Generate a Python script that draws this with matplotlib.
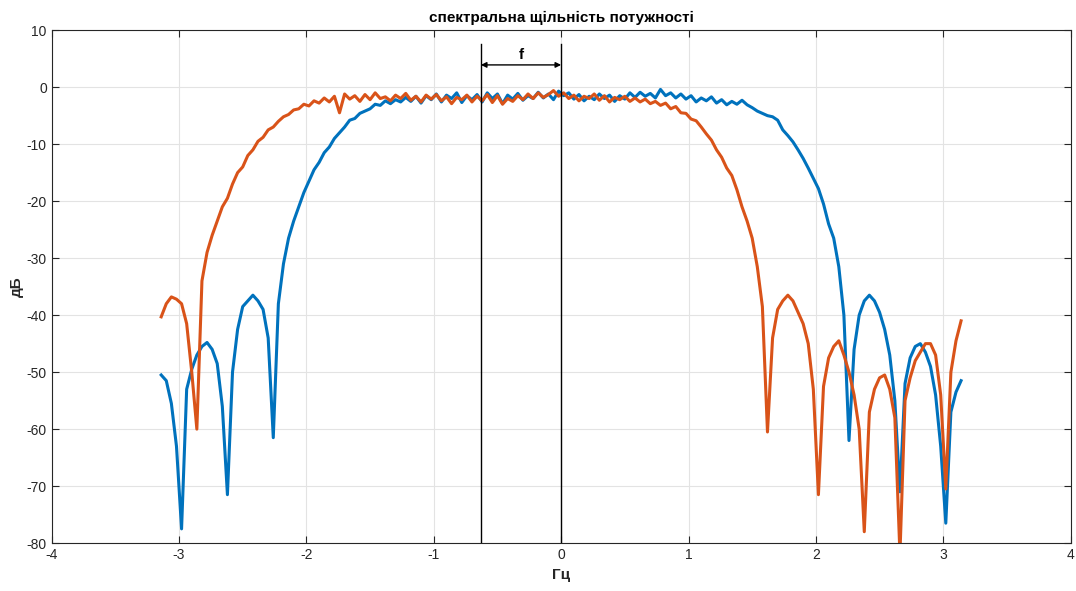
import numpy as np
import matplotlib
matplotlib.use('Agg')
import matplotlib.pyplot as plt

plt.rcParams['font.family'] = ['Liberation Sans', 'DejaVu Sans']
plt.rcParams['axes.unicode_minus'] = False

# frequency grid (rad), 158 samples from -3.14 to 3.14
freq = np.linspace(-3.14, 3.14, 158)

# PSD of the wide signal (blue), dB
psd_wide = [
    -50.5, -51.5, -55.5, -63.0, -77.5, -53.0, -49.5, -47.0, -45.5, -44.8,
    -46.0, -48.5, -56.0, -71.5, -50.0, -42.5, -38.5, -37.5, -36.5, -37.5,
    -39.0, -44.0, -61.5, -38.0, -31.0, -26.5, -23.5, -21.0, -18.5, -16.5,
    -14.5, -13.2, -11.5, -10.5, -9.0, -8.0, -7.0, -5.8, -5.5, -4.6,
    -4.2, -3.8, -3.0, -3.2, -2.4, -2.9, -2.2, -2.6, -1.8, -2.5,
    -1.6, -2.8, -1.5, -2.2, -1.2, -2.6, -1.4, -2.0, -1.0, -2.7,
    -1.5, -2.2, -1.3, -2.6, -1.0, -2.0, -1.2, -2.9, -1.4, -2.1,
    -1.1, -2.3, -1.5, -2.0, -0.9, -1.9, -1.2, -2.2, -0.7, -1.5,
    -1.0, -2.1, -1.3, -2.4, -1.6, -2.2, -1.2, -2.0, -1.4, -2.5,
    -1.5, -2.1, -1.0, -1.8, -0.9, -1.6, -1.1, -1.9, -0.4, -1.5,
    -1.0, -1.9, -1.2, -2.1, -1.5, -2.6, -1.9, -2.4, -1.7, -2.8,
    -2.2, -3.1, -2.5, -3.0, -2.3, -3.1, -3.6, -4.2, -4.6, -5.0,
    -5.2, -5.8, -7.5, -8.5, -9.6, -11.0, -12.5, -14.2, -16.0, -17.8,
    -20.5, -24.0, -26.5, -31.5, -40.0, -62.0, -46.0, -40.0, -37.5, -36.5,
    -37.5, -39.5, -42.5, -47.0, -55.0, -71.0, -52.0, -47.5, -45.5, -45.0,
    -46.5, -49.0, -54.0, -63.0, -76.5, -57.0, -53.5, -51.5,
]

# PSD of the narrow signal (orange), dB
psd_narrow = [
    -40.3, -38.0, -36.8, -37.2, -38.0, -41.5, -50.0, -60.0, -34.0, -29.0,
    -26.0, -23.5, -21.0, -19.5, -17.0, -15.0, -14.0, -12.0, -11.0, -9.5,
    -8.8, -7.5, -7.0, -6.0, -5.2, -4.8, -4.0, -3.8, -3.0, -3.3,
    -2.4, -2.8, -1.9, -2.6, -1.6, -4.5, -1.2, -2.1, -1.5, -2.5,
    -1.3, -2.2, -1.0, -2.0, -1.7, -2.4, -1.4, -2.0, -1.1, -2.3,
    -1.6, -2.6, -1.4, -2.1, -1.3, -2.4, -1.7, -2.9, -1.8, -2.2,
    -1.4, -2.6, -1.6, -2.4, -1.3, -2.7, -1.5, -3.0, -2.0, -2.5,
    -1.5, -2.2, -1.2, -2.0, -1.0, -1.8, -1.3, -0.6, -1.6, -1.0,
    -2.0, -1.4, -2.4, -1.6, -2.0, -1.2, -2.3, -1.5, -2.6, -1.8,
    -2.2, -1.6, -2.5, -1.9, -2.6, -2.1, -2.9, -2.5, -3.2, -2.8,
    -3.8, -3.4, -4.5, -4.6, -5.6, -5.9, -7.0, -8.2, -9.3, -11.0,
    -12.3, -14.2, -15.5, -18.0, -21.0, -23.5, -26.5, -31.5, -38.5, -60.5,
    -44.0, -39.0, -37.5, -36.5, -37.5, -39.5, -41.5, -45.0, -53.0, -71.5,
    -52.5, -47.5, -45.5, -44.5, -47.0, -50.0, -54.0, -60.0, -78.0, -57.0,
    -53.0, -51.0, -50.5, -53.0, -58.0, -82.0, -55.0, -51.0, -48.0, -46.5,
    -45.0, -45.0, -47.0, -54.0, -70.5, -50.0, -44.5, -41.0,
]

# band marked with "f"
band_left = -0.63
band_right = 0.0

fig = plt.figure(figsize=(10.76, 5.91), dpi=100)
ax = fig.add_axes([0.048, 0.081, 0.947, 0.868])

ax.plot(freq, psd_wide, color='#0072BD', lw=2.2)
ax.plot(freq, psd_narrow, color='#D95319', lw=2.2)

ax.plot([band_left, band_left], [-80, 7.5], color='k', lw=1, zorder=5)
ax.plot([band_right, band_right], [-80, 7.5], color='k', lw=1, zorder=5)
ax.annotate('', xy=(band_left, 3.9), xytext=(band_right, 3.9),
            arrowprops=dict(arrowstyle='<|-|>', color='k', lw=1,
                            mutation_scale=8, shrinkA=0, shrinkB=0), zorder=6)
ax.text((band_left + band_right) / 2, 5.6, 'f', ha='center', va='center',
        fontsize=11, fontweight='bold')

ax.set_xlim(-4, 4)
ax.set_ylim(-80, 10)
ax.set_xticks(np.arange(-4, 5, 1))
ax.set_yticks(np.arange(-80, 11, 10))
ax.grid(True, color='#e3e3e3', lw=0.8)
ax.set_axisbelow(True)
ax.tick_params(direction='in', colors='#262626', labelsize=10, length=5,
               top=True, right=True)
for s in ax.spines.values():
    s.set_color('#262626')
    s.set_linewidth(0.8)

ax.set_title('спектральна щільність потужності', fontsize=11, fontweight='bold', pad=6)
ax.set_xlabel('Гц', fontsize=11, fontweight='bold', color='#262626')
ax.set_ylabel('дБ', fontsize=11, fontweight='bold', color='#262626', labelpad=2)

plt.savefig('out.png', dpi=100)
